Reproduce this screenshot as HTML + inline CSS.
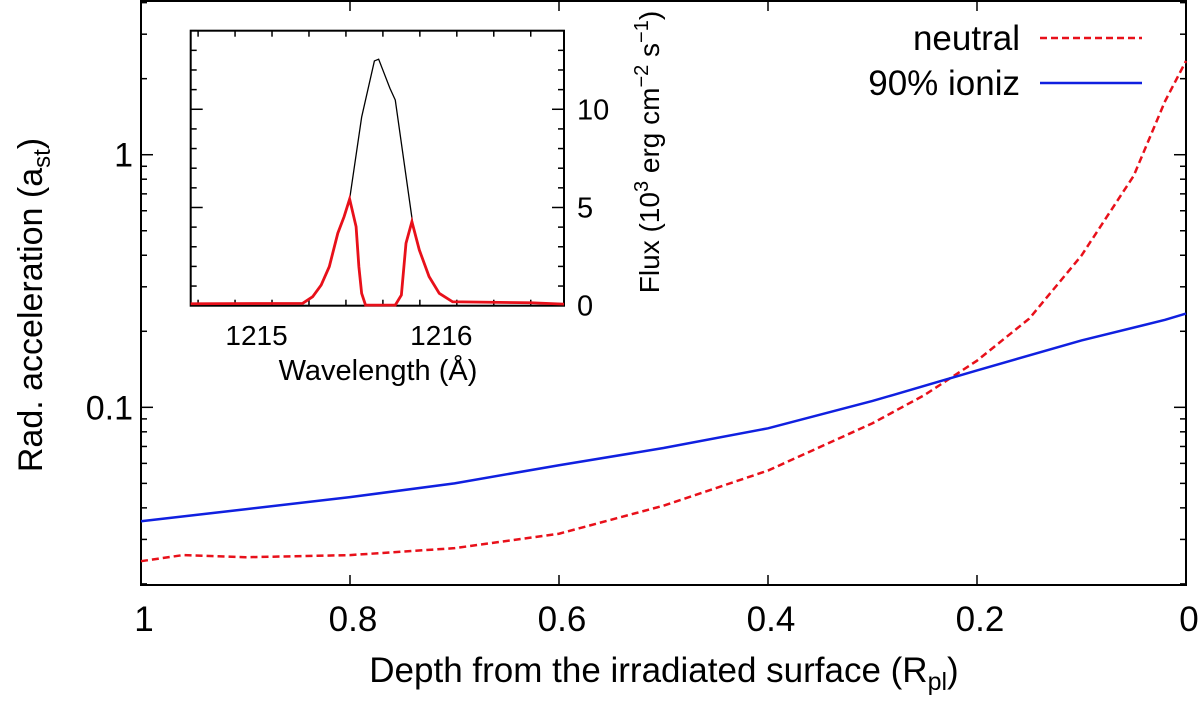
<!DOCTYPE html>
<html><head><meta charset="utf-8"><style>
html,body{margin:0;padding:0;background:#fff;}
svg{display:block;font-family:"Liberation Sans",sans-serif;}
</style></head><body>
<svg id="chart" width="1200" height="702" viewBox="0 0 1200 702" xmlns="http://www.w3.org/2000/svg">
<g id="main"></g>
<g id="inset"></g>
</svg>
<script>
// Main chart data
const depthX = [1,0.96,0.9,0.8,0.7,0.6,0.5,0.4,0.3,0.25,0.2,0.15,0.1,0.05,0.02,0];
const neutralVals = [0.0246,0.026,0.0255,0.026,0.0277,0.0316,0.0408,0.0562,0.0865,0.112,0.153,0.2245,0.399,0.826,1.63,2.35];
const ionizX = [1,0.9,0.8,0.7,0.6,0.5,0.4,0.3,0.28,0.2,0.1,0.02,0];
const ionizVals = [0.0354,0.0395,0.0441,0.050,0.059,0.069,0.0826,0.106,0.112,0.140,0.184,0.222,0.235];
const xTicks = [1,0.8,0.6,0.4,0.2,0];
const xTickLabels = ["1","0.8","0.6","0.4","0.2","0"];
const yTicks = [0.1,1];
const yTickLabels = ["0.1","1"];
// Inset data
const waveBlack = [1215.52,1215.585,1215.654,1215.677,1215.738,1215.767,1215.86];
const fluxBlack = [5.43,9.6,12.46,12.55,11.07,10.47,4.28];
const waveRed = [1214.66,1215.266,1215.32,1215.366,1215.41,1215.456,1215.49,1215.52,1215.555,1215.57,1215.585,1215.606,1215.767,1215.80,1215.825,1215.857,1215.897,1215.95,1216.005,1216.077,1216.5,1216.68];
const fluxRed = [0.1,0.12,0.46,1.05,1.99,3.69,4.53,5.43,4.02,1.99,0.63,0.03,0.03,0.54,3.18,4.28,2.84,1.48,0.63,0.2,0.15,0.08];
const insetXTicks = [1215,1216];
const insetYTicks = [0,5,10];

const NS="http://www.w3.org/2000/svg";
function mk(parent,tag,attrs,text){const e=document.createElementNS(NS,tag);for(const k in attrs)e.setAttribute(k,attrs[k]);if(text!==undefined)e.textContent=text;parent.appendChild(e);return e;}

// main axes
const L=141,R=1186,T=1,B=585;
const ymin=Math.log10(0.0198),ymax=Math.log10(4.06);
const sx=v=>L+(1-v)*(R-L);
const sy=v=>B-(Math.log10(v)-ymin)/(ymax-ymin)*(B-T);
const main=document.getElementById('main');
let f=mk(main,'rect',{x:L,y:T,width:R-L,height:B-T,fill:'none',stroke:'#000','stroke-width':2});


for(let i=0;i<xTicks.length;i++){
  const x=sx(xTicks[i]);
  mk(main,'line',{x1:x,y1:B,x2:x,y2:B-10,stroke:'#000','stroke-width':1.5});
  mk(main,'line',{x1:x,y1:T,x2:x,y2:T+10,stroke:'#000','stroke-width':1.5});
  const t=mk(main,'text',{x:x+3,y:631,'font-size':35,'text-anchor':'middle'},xTickLabels[i]);
  
  
}
for(let d=0.02;d<4.1;){
  const e=Math.floor(Math.log10(d)+1e-9),m=Math.round(d/Math.pow(10,e));
  const y=sy(d);const major=(m===1);
  mk(main,'line',{x1:L,y1:y,x2:L+(major?12:6),y2:y,stroke:'#000','stroke-width':1.5});
  mk(main,'line',{x1:R,y1:y,x2:R-(major?12:6),y2:y,stroke:'#000','stroke-width':1.5});
  d=(m+1)*Math.pow(10,e);if(m+1>=10)d=Math.pow(10,e+1);
}
for(let i=0;i<yTicks.length;i++){
  const t=mk(main,'text',{x:133,y:sy(yTicks[i])+12,'font-size':34,'text-anchor':'end'},yTickLabels[i]);
  
  
}
let xl=mk(main,'text',{x:664,y:682,'font-size':35,'text-anchor':'middle'});
xl.innerHTML='Depth from the irradiated surface (R<tspan font-size="25" dy="8">pl</tspan><tspan dy="-8">)</tspan>';


let yl=mk(main,'text',{transform:'translate(42,305) rotate(-90)','font-size':34,'text-anchor':'middle'});
yl.innerHTML='Rad. acceleration (a<tspan font-size="24" dy="8">st</tspan><tspan dy="-8">)</tspan>';


let p=depthX.map((v,i)=>sx(v)+','+sy(neutralVals[i])).join(' ');
let ln=mk(main,'polyline',{points:p,fill:'none',stroke:'#e8101a','stroke-width':2.5,'stroke-dasharray':'7,4'});


p=ionizX.map((v,i)=>sx(v)+','+sy(ionizVals[i])).join(' ');
ln=mk(main,'polyline',{points:p,fill:'none',stroke:'#1020e0','stroke-width':2.5});


// legend
let lg=mk(main,'g',{});


let le=mk(lg,'text',{x:1020,y:50,'font-size':35,'text-anchor':'end'},'neutral');


mk(lg,'line',{x1:1040,y1:38,x2:1142,y2:38,stroke:'#e8101a','stroke-width':2.5,'stroke-dasharray':'7,4'});
le=mk(lg,'text',{x:1020,y:95,'font-size':35,'text-anchor':'end'},'90% ioniz');


mk(lg,'line',{x1:1040,y1:83,x2:1142,y2:83,stroke:'#1020e0','stroke-width':2.5});

// inset
const IL=190.7,IR=564,IT=30.7,IB=305.7;
const ix=w=>IL+(w-1214.66)/(1216.68-1214.66)*(IR-IL);
const iy=v=>IB-v/14.0*(IB-IT);
const inset=document.getElementById('inset');
mk(inset,'rect',{x:IL,y:IT,width:IR-IL,height:IB-IT,fill:'#fff',stroke:'#000','stroke-width':2});
for(let w=1214.7;w<1216.7;w+=0.2){
  const x=ix(w);const major=Math.abs(w-Math.round(w))<0.01;
  mk(inset,'line',{x1:x,y1:IB,x2:x,y2:IB-(major?12:6),stroke:'#000','stroke-width':1.5});
  mk(inset,'line',{x1:x,y1:IT,x2:x,y2:IT+(major?12:6),stroke:'#000','stroke-width':1.5});
}
for(let v=0;v<=14;v+=1){
  const y=iy(v);const major=v%5===0;
  mk(inset,'line',{x1:IR,y1:y,x2:IR-(major?12:6),y2:y,stroke:'#000','stroke-width':1.5});
  mk(inset,'line',{x1:IL,y1:y,x2:IL+(major?12:6),y2:y,stroke:'#000','stroke-width':1.5});
}
insetXTicks.forEach(w=>{
  const t=mk(inset,'text',{x:ix(w)+3,y:345,'font-size':28,'text-anchor':'middle'},String(w));
  
  
});
insetYTicks.forEach(v=>{
  const t=mk(inset,'text',{x:577,y:iy(v)+10,'font-size':29,'text-anchor':'start'},String(v));
  
  
});
let it=mk(inset,'text',{x:378,y:380,'font-size':29,'text-anchor':'middle'},'Wavelength (Å)');


it=mk(inset,'text',{transform:'translate(659,152) rotate(-90)','font-size':28,'text-anchor':'middle'});
it.innerHTML='Flux (10<tspan font-size="20" dy="-11">3</tspan><tspan dy="11"> erg cm</tspan><tspan font-size="20" dy="-11">−2</tspan><tspan dy="11"> s</tspan><tspan font-size="20" dy="-11">−1</tspan><tspan dy="11">)</tspan>';


p=waveBlack.map((w,i)=>ix(w)+','+iy(fluxBlack[i])).join(' ');
ln=mk(inset,'polyline',{points:p,fill:'none',stroke:'#000','stroke-width':1.3});


p=waveRed.map((w,i)=>ix(w)+','+iy(fluxRed[i])).join(' ');
ln=mk(inset,'polyline',{points:p,fill:'none',stroke:'#e8101a','stroke-width':2.8});


</script>
</body></html>
